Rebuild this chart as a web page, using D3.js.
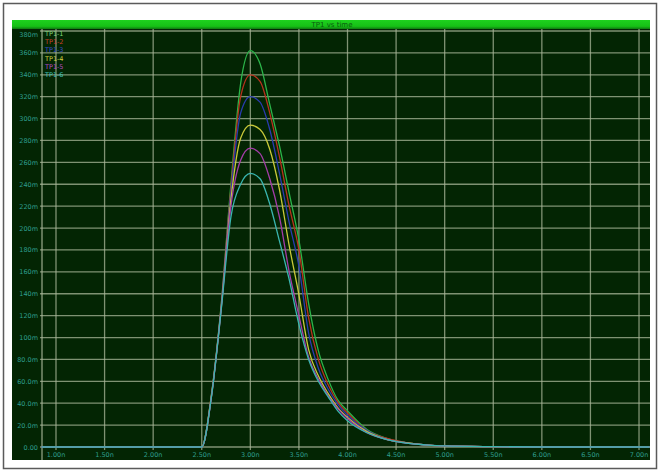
<!DOCTYPE html>
<html>
<head>
<meta charset="utf-8">
<script src="https://cdn.jsdelivr.net/npm/d3@7"></script>
<style>
  html, body { margin: 0; padding: 0; background: #fff; }
  svg { display: block; font-family: "DejaVu Sans", sans-serif; }
</style>
</head>
<body>
<div id="chart"></div>
<script>
// sample times (x axis units)
const times = [0.85, 2.5, 2.6, 2.7, 2.8, 2.9, 3.0, 3.1, 3.2, 3.3, 3.4, 3.5, 3.6, 3.7, 3.8, 3.9, 4.0, 4.2, 4.4, 4.6, 4.8, 5.0, 5.5, 6.0, 7.11];

// series values in milli-units
const greenVals   = [0, 0, 48, 130, 240, 332, 362, 350, 313, 275, 232, 189, 131, 88, 62, 43, 33, 16, 8, 4, 2, 1, 0.3, 0, 0];
const redVals     = [0, 0, 48, 129, 236, 320, 340, 334, 305, 265, 220, 180, 118, 80, 57, 41, 31, 15, 8, 4, 2, 1, 0.3, 0, 0];
const blueVals    = [0, 0, 47, 128, 232, 305, 320, 315, 290, 250, 205, 165, 104, 72, 53, 39, 29, 15, 7, 4, 2, 1, 0.3, 0, 0];
const yellowVals  = [0, 0, 47, 127, 226, 282, 294, 290, 272, 235, 184, 139, 89, 65, 49, 36, 27, 14, 7, 4, 2, 1, 0.3, 0, 0];
const magentaVals = [0, 0, 46, 126, 220, 262, 273, 268, 245, 210, 160, 120, 82, 62, 47, 35, 26, 13, 7, 3.5, 2, 1, 0.3, 0, 0];
const cyanVals    = [0, 0, 46, 125, 210, 240, 250, 245, 222, 188, 153, 112, 80, 60, 46, 33, 24, 13, 7, 3.5, 2, 1, 0.3, 0, 0];

const seriesNames = ['TP1-1', 'TP1-2', 'TP1-3', 'TP1-4', 'TP1-5', 'TP1-6'];

const xTickValues = [1.0, 1.5, 2.0, 2.5, 3.0, 3.5, 4.0, 4.5, 5.0, 5.5, 6.0, 6.5, 7.0];
const xTickLabels = ['1.00n', '1.50n', '2.00n', '2.50n', '3.00n', '3.50n', '4.00n', '4.50n', '5.00n', '5.50n', '6.00n', '6.50n', '7.00n'];

const yTickValues = [0, 20, 40, 60, 80, 100, 120, 140, 160, 180, 200, 220, 240, 260, 280, 300, 320, 340, 360, 380];
const yTickLabels = ['0.00', '20.0m', '40.0m', '60.0m', '80.0m', '100m', '120m', '140m', '160m', '180m',
                     '200m', '220m', '240m', '260m', '280m', '300m', '320m', '340m', '360m', '380m'];

const chartTitle = 'TP1 vs time';

const series = [
    { name: seriesNames[0], values: greenVals,   color: '#2cb54a', text: '#7fd67a' },
    { name: seriesNames[1], values: redVals,     color: '#b8321e', text: '#c8402a' },
    { name: seriesNames[2], values: blueVals,    color: '#2a3bb0', text: '#3a4ac8' },
    { name: seriesNames[3], values: yellowVals,  color: '#c9c93a', text: '#d0d040' },
    { name: seriesNames[4], values: magentaVals, color: '#a43ca8', text: '#b048c0' },
    { name: seriesNames[5], values: cyanVals,    color: '#3ab5b0', text: '#40c0b8' }
];

const W = 659, H = 472;
const plot = { left: 12, right: 650, top: 29, bottom: 460 };
const axisX = 42, baseY = 447;

const svg = d3.select('#chart').append('svg')
    .attr('width', W)
    .attr('height', H);

// outer frame
svg.append('rect')
    .attr('x', 3.5).attr('y', 3.5)
    .attr('width', 653).attr('height', 465)
    .attr('fill', '#fff')
    .attr('stroke', '#5a5a5a')
    .attr('stroke-width', 1.5);

// title bar
const grad = svg.append('defs').append('linearGradient')
    .attr('id', 'bar').attr('x1', 0).attr('y1', 0).attr('x2', 0).attr('y2', 1);
grad.append('stop').attr('offset', '0%').attr('stop-color', '#1ed21e');
grad.append('stop').attr('offset', '70%').attr('stop-color', '#16c016');
grad.append('stop').attr('offset', '100%').attr('stop-color', '#0e7a10');

svg.append('rect')
    .attr('x', plot.left).attr('y', 20)
    .attr('width', plot.right - plot.left).attr('height', 9)
    .attr('fill', 'url(#bar)');

svg.append('text')
    .attr('x', 332).attr('y', 27)
    .attr('text-anchor', 'middle')
    .attr('font-size', 7)
    .attr('fill', '#0b5a10')
    .text(chartTitle);

// plot background
svg.append('rect')
    .attr('x', plot.left).attr('y', plot.top)
    .attr('width', plot.right - plot.left).attr('height', plot.bottom - plot.top)
    .attr('fill', '#032503');

const x = d3.scaleLinear().domain([0.856, 7.113]).range([axisX, plot.right]);
const y = d3.scaleLinear().domain([0, 380]).range([baseY, 31]);

const gridColor = '#a9b79a';

// vertical grid
svg.append('g')
    .selectAll('line')
    .data(xTickValues)
    .join('line')
    .attr('x1', d => x(d)).attr('x2', d => x(d))
    .attr('y1', plot.top).attr('y2', baseY + 3)
    .attr('stroke', gridColor)
    .attr('stroke-opacity', 0.75)
    .attr('stroke-width', 1.3);

// horizontal grid
svg.append('g')
    .selectAll('line')
    .data(yTickValues)
    .join('line')
    .attr('x1', axisX - 2).attr('x2', plot.right)
    .attr('y1', d => y(d)).attr('y2', d => y(d))
    .attr('stroke', gridColor)
    .attr('stroke-opacity', 0.75)
    .attr('stroke-width', 1.3);

// left axis line
svg.append('line')
    .attr('x1', axisX).attr('x2', axisX)
    .attr('y1', plot.top).attr('y2', plot.bottom)
    .attr('stroke', gridColor)
    .attr('stroke-opacity', 0.85)
    .attr('stroke-width', 1.3);

// y tick labels
svg.append('g')
    .selectAll('text')
    .data(yTickValues)
    .join('text')
    .attr('x', axisX - 4)
    .attr('y', (d, i) => i === yTickValues.length - 1 ? y(d) + 6 : y(d) + 2.5)
    .attr('text-anchor', 'end')
    .attr('font-size', 6.5)
    .attr('fill', '#2e9e8e')
    .text((d, i) => yTickLabels[i]);

// x tick labels
svg.append('g')
    .selectAll('text')
    .data(xTickValues)
    .join('text')
    .attr('x', d => x(d))
    .attr('y', 457)
    .attr('text-anchor', 'middle')
    .attr('font-size', 6.5)
    .attr('fill', '#2e9e8e')
    .text((d, i) => xTickLabels[i]);

// curves
const line = d3.line()
    .x((d, i) => x(times[i]))
    .y(d => y(d))
    .curve(d3.curveMonotoneX);

svg.append('g')
    .selectAll('path')
    .data(series)
    .join('path')
    .attr('d', s => line(s.values))
    .attr('fill', 'none')
    .attr('stroke', s => s.color)
    .attr('stroke-width', 1.3);

// legend
svg.append('g')
    .selectAll('text')
    .data(series)
    .join('text')
    .attr('x', 45)
    .attr('y', (d, i) => 36 + i * 8.2)
    .attr('font-size', 6.5)
    .attr('fill', d => d.text)
    .text(d => d.name);
</script>
</body>
</html>
